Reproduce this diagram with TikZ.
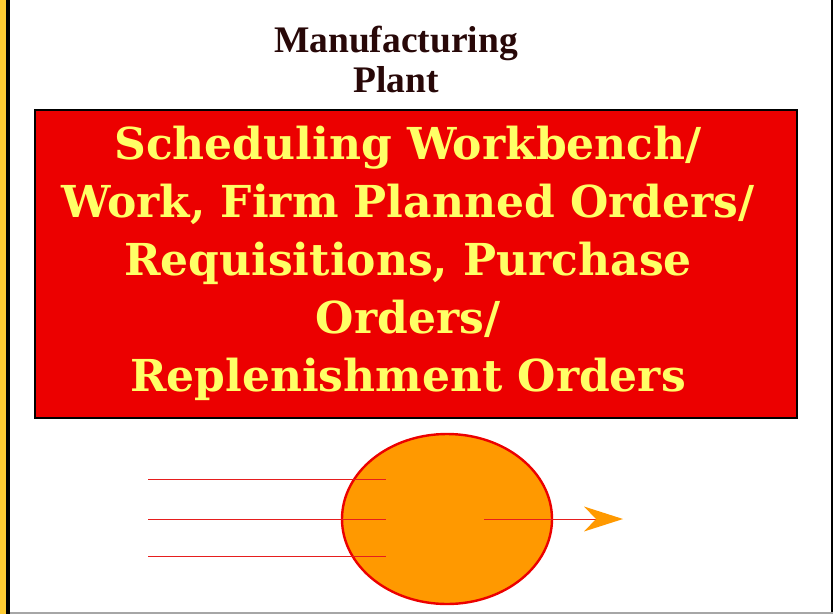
\documentclass[tikz,border=0pt]{standalone}
\usepackage{fontspec}
\setmainfont{Liberation Serif}
\newfontfamily\boxfont{DejaVu Serif}
\usetikzlibrary{shapes.geometric}
\definecolor{boxred}{RGB}{236,0,0}
\definecolor{txtyellow}{RGB}{255,255,102}
\definecolor{stripyellow}{RGB}{255,204,51}
\definecolor{titlebrown}{RGB}{40,8,8}
\definecolor{ballorange}{RGB}{255,153,0}
\definecolor{linered}{RGB}{230,30,30}
\begin{document}
\begin{tikzpicture}[x=1pt,y=-1pt,
  titletext/.style={font=\fontsize{37.5}{40}\selectfont\bfseries, text=titlebrown, align=center, inner sep=0pt},
  bigbox/.style={draw=black, line width=2.5pt, fill=boxred},
  boxtext/.style={font=\boxfont\fontsize{44}{58}\selectfont\bfseries, text=txtyellow, align=center, inner sep=0pt},
  ball/.style={ellipse, draw=boxred, line width=2.4pt, fill=ballorange, minimum width=210pt, minimum height=170pt, inner sep=0pt},
  feed/.style={draw=linered, line width=1pt},
  headfill/.style={fill=ballorange}]
\useasboundingbox (0,0) rectangle (833,614);
\fill[white] (0,0) rectangle (833,614);
\fill[stripyellow] (0,0) rectangle (5.5,614);
\fill[black] (5.5,0) rectangle (10,614);
\fill[black] (830.5,0) rectangle (833,614);
\fill[gray!70] (10,612) rectangle (833,614);
\node[titletext] (title) at (396,59) {Manufacturing\\Plant};
\draw[bigbox] (35,110) rectangle (797,418);
\node[boxtext] (main) at (408,263) {Scheduling Workbench/\\Work, Firm Planned Orders/\\Requisitions, Purchase\\Orders/\\Replenishment Orders};
\node[ball] (src) at (447,519) {};
\coordinate (a1) at (148,479.5);
\coordinate (a2) at (148,519);
\coordinate (a3) at (148,556.5);
\coordinate (b1) at (385.5,479.5);
\coordinate (b2) at (385.5,519);
\coordinate (b3) at (385.5,556.5);
\draw[feed] (a1) -- (b1);
\draw[feed] (a2) -- (b2);
\draw[feed] (a3) -- (b3);
\coordinate (c0) at (484,519);
\coordinate (tip) at (623,519);
\draw[feed] (c0) -- (598,519);
\fill[headfill] (tip) -- (584,506.5) -- (596,519) -- (584,531.5) -- cycle;
\end{tikzpicture}
\end{document}
